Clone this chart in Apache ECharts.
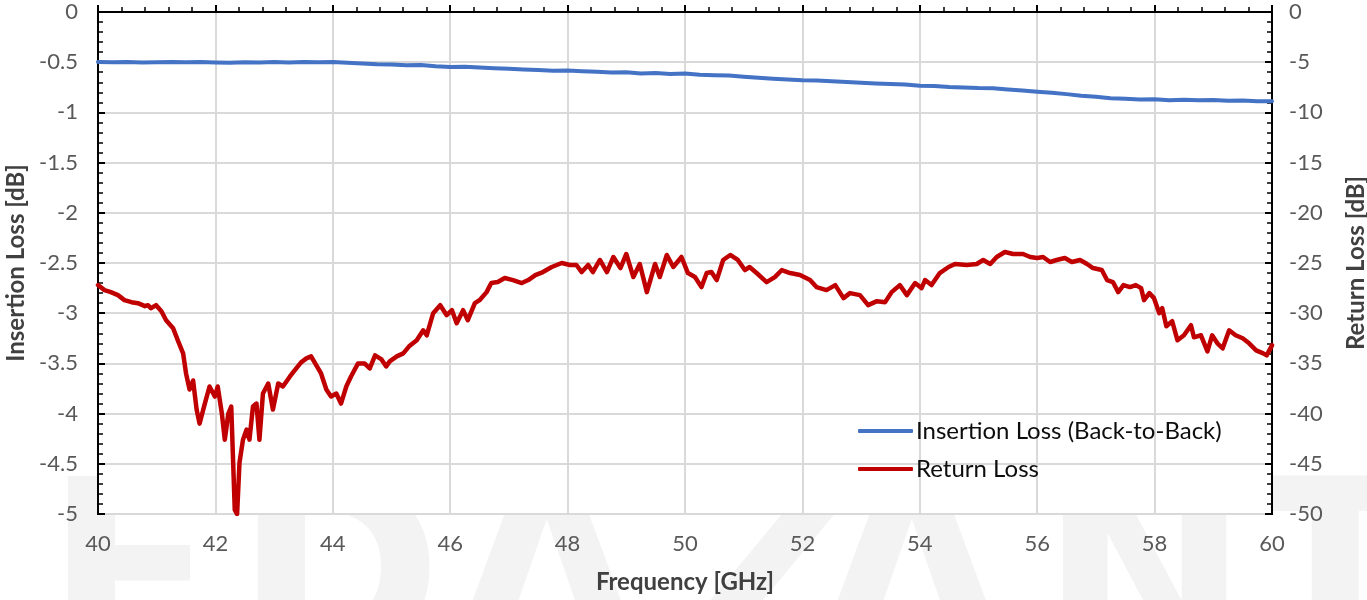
<!DOCTYPE html>
<html>
<head>
<meta charset="utf-8">
<script src="https://cdn.jsdelivr.net/npm/echarts@6/dist/echarts.min.js"></script>
<style>
  html, body { margin: 0; padding: 0; background: #fff; }
  #chart { width: 1367px; height: 600px; }
</style>
</head>
<body>
<div id="chart"></div>
<script>
  // insertion loss (left axis, dB)
  var ilFreq = [40.00, 40.25, 40.50, 40.75, 41.00, 41.25, 41.50, 41.75, 42.00, 42.25, 42.50, 42.75,
    43.00, 43.25, 43.50, 43.75, 44.00, 44.25, 44.50, 44.75, 45.00, 45.25, 45.50, 45.75,
    46.00, 46.25, 46.50, 46.75, 47.00, 47.25, 47.50, 47.75, 48.00, 48.25, 48.50, 48.75,
    49.00, 49.25, 49.50, 49.75, 50.00, 50.25, 50.50, 50.75, 51.00, 51.25, 51.50, 51.75,
    52.00, 52.25, 52.50, 52.75, 53.00, 53.25, 53.50, 53.75, 54.00, 54.25, 54.50, 54.75,
    55.00, 55.25, 55.50, 55.75, 56.00, 56.25, 56.50, 56.75, 57.00, 57.25, 57.50, 57.75,
    58.00, 58.25, 58.50, 58.75, 59.00, 59.25, 59.50, 59.75, 60.00];
  var ilLoss = [-0.497, -0.500, -0.498, -0.502, -0.500, -0.497, -0.501, -0.498, -0.503, -0.505, -0.500, -0.503,
    -0.499, -0.502, -0.497, -0.500, -0.498, -0.505, -0.512, -0.520, -0.522, -0.530, -0.528, -0.540,
    -0.548, -0.545, -0.553, -0.560, -0.565, -0.572, -0.578, -0.585, -0.583, -0.590, -0.595, -0.603,
    -0.600, -0.612, -0.608, -0.618, -0.612, -0.625, -0.630, -0.632, -0.645, -0.655, -0.665, -0.672,
    -0.680, -0.683, -0.690, -0.698, -0.705, -0.712, -0.718, -0.722, -0.735, -0.738, -0.748, -0.752,
    -0.758, -0.760, -0.772, -0.782, -0.795, -0.805, -0.818, -0.835, -0.845, -0.858, -0.865, -0.872,
    -0.870, -0.878, -0.873, -0.880, -0.876, -0.885, -0.882, -0.890, -0.888];

  // return loss (right axis, dB)
  var rlFreq = [40.00, 40.11, 40.22, 40.34, 40.45, 40.57, 40.68, 40.80, 40.85, 40.90, 40.99, 41.08,
    41.16, 41.28, 41.36, 41.45, 41.50, 41.56, 41.62, 41.68, 41.73, 41.82, 41.90, 41.99,
    42.04, 42.11, 42.16, 42.22, 42.27, 42.33, 42.37, 42.41, 42.47, 42.53, 42.58, 42.64,
    42.70, 42.75, 42.81, 42.90, 42.98, 43.07, 43.15, 43.27, 43.35, 43.46, 43.55, 43.63,
    43.72, 43.80, 43.89, 43.97, 44.06, 44.14, 44.23, 44.31, 44.43, 44.54, 44.63, 44.72,
    44.83, 44.91, 44.97, 45.09, 45.20, 45.30, 45.43, 45.54, 45.60, 45.71, 45.83, 45.94,
    46.03, 46.11, 46.22, 46.30, 46.42, 46.50, 46.62, 46.70, 46.81, 46.93, 47.07, 47.22,
    47.33, 47.45, 47.58, 47.73, 47.90, 48.04, 48.15, 48.24, 48.35, 48.43, 48.55, 48.67,
    48.78, 48.90, 49.00, 49.12, 49.23, 49.35, 49.49, 49.57, 49.69, 49.80, 49.94, 50.05,
    50.17, 50.28, 50.37, 50.45, 50.54, 50.65, 50.77, 50.90, 51.02, 51.10, 51.22, 51.39,
    51.53, 51.65, 51.79, 51.96, 52.13, 52.24, 52.41, 52.56, 52.70, 52.81, 52.98, 53.12,
    53.27, 53.41, 53.52, 53.66, 53.78, 53.92, 54.03, 54.09, 54.20, 54.34, 54.49, 54.60,
    54.80, 54.97, 55.08, 55.20, 55.31, 55.45, 55.59, 55.76, 55.88, 56.00, 56.10, 56.22,
    56.33, 56.47, 56.59, 56.73, 56.85, 56.95, 57.10, 57.19, 57.29, 57.38, 57.47, 57.58,
    57.68, 57.77, 57.82, 57.91, 57.99, 58.08, 58.13, 58.20, 58.30, 58.39, 58.50, 58.62,
    58.67, 58.79, 58.90, 58.98, 59.07, 59.16, 59.27, 59.38, 59.50, 59.61, 59.73, 59.85,
    59.91, 60.00];
  var rlLoss = [-27.2, -27.7, -27.9, -28.2, -28.7, -28.9, -29.0, -29.3, -29.2, -29.5, -29.2, -29.8,
    -30.7, -31.5, -32.7, -34.0, -36.0, -37.6, -36.7, -39.6, -41.0, -39.0, -37.3, -38.3,
    -37.3, -40.0, -42.6, -40.0, -39.3, -49.6, -50.0, -44.9, -42.6, -41.6, -42.6, -39.3,
    -39.0, -42.6, -38.0, -37.0, -39.6, -37.0, -37.3, -36.3, -35.7, -34.9, -34.5, -34.3,
    -35.2, -36.0, -37.6, -38.3, -38.0, -39.0, -37.3, -36.3, -35.0, -35.0, -35.5, -34.2,
    -34.6, -35.3, -34.8, -34.3, -34.0, -33.3, -32.7, -31.7, -32.2, -30.0, -29.2, -30.2,
    -29.7, -31.0, -29.7, -30.7, -29.0, -28.7, -27.9, -27.0, -26.9, -26.5, -26.7, -27.0,
    -26.7, -26.2, -25.9, -25.4, -25.0, -25.2, -25.2, -25.9, -25.2, -25.9, -24.7, -25.9,
    -24.4, -25.5, -24.1, -26.4, -25.1, -27.9, -25.1, -26.4, -24.2, -25.4, -24.4, -26.0,
    -26.4, -27.4, -26.0, -25.9, -26.7, -24.7, -24.2, -24.7, -25.7, -25.4, -26.0, -26.9,
    -26.4, -25.7, -26.0, -26.2, -26.7, -27.4, -27.7, -27.2, -28.5, -28.0, -28.2, -29.2,
    -28.8, -28.9, -27.9, -27.2, -28.2, -27.0, -27.5, -26.7, -27.2, -26.0, -25.4, -25.1,
    -25.2, -25.1, -24.7, -25.1, -24.4, -23.9, -24.1, -24.1, -24.4, -24.5, -24.4, -24.9,
    -24.7, -24.5, -24.9, -24.7, -25.1, -25.5, -25.7, -26.7, -26.9, -27.9, -27.2, -27.4,
    -27.2, -27.5, -28.7, -28.0, -28.5, -30.0, -29.5, -31.3, -30.8, -32.7, -32.2, -31.2,
    -32.4, -32.2, -33.8, -32.2, -33.0, -33.5, -31.7, -32.2, -32.5, -33.0, -33.7, -34.0,
    -34.2, -33.2];

  var watermark = ['E', 'D', 'Λ', 'Z', 'Λ', 'N', 'T'];
  var watermarkX = [45, 235, 450, 675, 815, 1040, 1250];

  var font = 'Lato, "Open Sans", sans-serif';
  var labelGray = '#595959';

  var chart = echarts.init(document.getElementById('chart'));

  chart.setOption({
    backgroundColor: '#fff',
    animation: false,
    graphic: watermark.map(function (ch, i) {
      return {
        type: 'text',
        left: watermarkX[i],
        top: 468,
        z: -100,
        silent: true,
        style: {
          text: ch,
          fontSize: 250,
          fontWeight: 'bold',
          fontFamily: '"DejaVu Sans", sans-serif',
          fill: '#f3f3f3'
        }
      };
    }),
    grid: {
      left: 98,
      right: 95,
      top: 12,
      bottom: 86,
      outerBoundsMode: 'none',
      show: true,
      backgroundColor: '#fff',
      borderColor: '#000',
      borderWidth: 2
    },
    legend: {
      orient: 'vertical',
      left: 853,
      top: 413,
      icon: 'roundRect',
      itemWidth: 55,
      itemHeight: 4,
      itemGap: 12,
      textStyle: { fontFamily: font, fontSize: 24, color: '#0d0d0d', lineHeight: 26, padding: [0, 0, 0, -2] },
      data: ['Insertion Loss (Back-to-Back)', 'Return Loss']
    },
    xAxis: {
      type: 'value',
      min: 40,
      max: 60,
      interval: 2,
      name: 'Frequency [GHz]',
      nameLocation: 'middle',
      nameGap: 56,
      nameTextStyle: { fontFamily: font, fontSize: 24, fontWeight: 'bold', color: '#404040' },
      axisLine: { lineStyle: { color: '#000', width: 2 } },
      axisTick: { inside: true, length: 7, lineStyle: { color: '#000', width: 2 } },
      minorTick: { show: true, splitNumber: 5, length: 5, lineStyle: { color: '#000', width: 1.5 } },
      axisLabel: { fontFamily: font, fontSize: 22, color: labelGray, margin: 19 },
      splitLine: { show: true, lineStyle: { color: '#d9d9d9', width: 2 } }
    },
    yAxis: [{
      type: 'value',
      min: -5,
      max: 0,
      interval: 0.5,
      name: 'Insertion Loss [dB]',
      nameLocation: 'middle',
      nameRotate: 90,
      nameGap: 68,
      nameTextStyle: { fontFamily: font, fontSize: 24, fontWeight: 'bold', color: '#404040' },
      axisLine: { show: true, lineStyle: { color: '#000', width: 2 } },
      axisTick: { inside: true, length: 7, lineStyle: { color: '#000', width: 2 } },
      minorTick: { show: true, splitNumber: 5, length: 5, lineStyle: { color: '#000', width: 1.5 } },
      axisLabel: { fontFamily: font, fontSize: 22, color: labelGray, margin: 20 },
      splitLine: { show: true, lineStyle: { color: '#d9d9d9', width: 2 } }
    }, {
      type: 'value',
      position: 'right',
      min: -50,
      max: 0,
      interval: 5,
      name: 'Return Loss [dB]',
      nameLocation: 'middle',
      nameRotate: 90,
      nameGap: 72,
      nameTextStyle: { fontFamily: font, fontSize: 24, fontWeight: 'bold', color: '#404040' },
      axisLine: { show: true, lineStyle: { color: '#000', width: 2 } },
      axisTick: { inside: true, length: 7, lineStyle: { color: '#000', width: 2 } },
      minorTick: { show: true, splitNumber: 5, length: 5, lineStyle: { color: '#000', width: 1.5 } },
      axisLabel: { fontFamily: font, fontSize: 22, color: labelGray, margin: 17 },
      splitLine: { show: false }
    }],
    series: [{
      name: 'Insertion Loss (Back-to-Back)',
      type: 'line',
      yAxisIndex: 0,
      symbol: 'none',
      color: '#4472c4',
      lineStyle: { width: 4, color: '#4472c4', cap: 'round', join: 'round' },
      data: ilFreq.map(function (f, i) { return [f, ilLoss[i]]; })
    }, {
      name: 'Return Loss',
      type: 'line',
      yAxisIndex: 1,
      symbol: 'none',
      color: '#c00000',
      lineStyle: { width: 4.5, color: '#c00000', cap: 'round', join: 'round' },
      data: rlFreq.map(function (f, i) { return [f, rlLoss[i]]; })
    }]
  });
</script>
</body>
</html>
